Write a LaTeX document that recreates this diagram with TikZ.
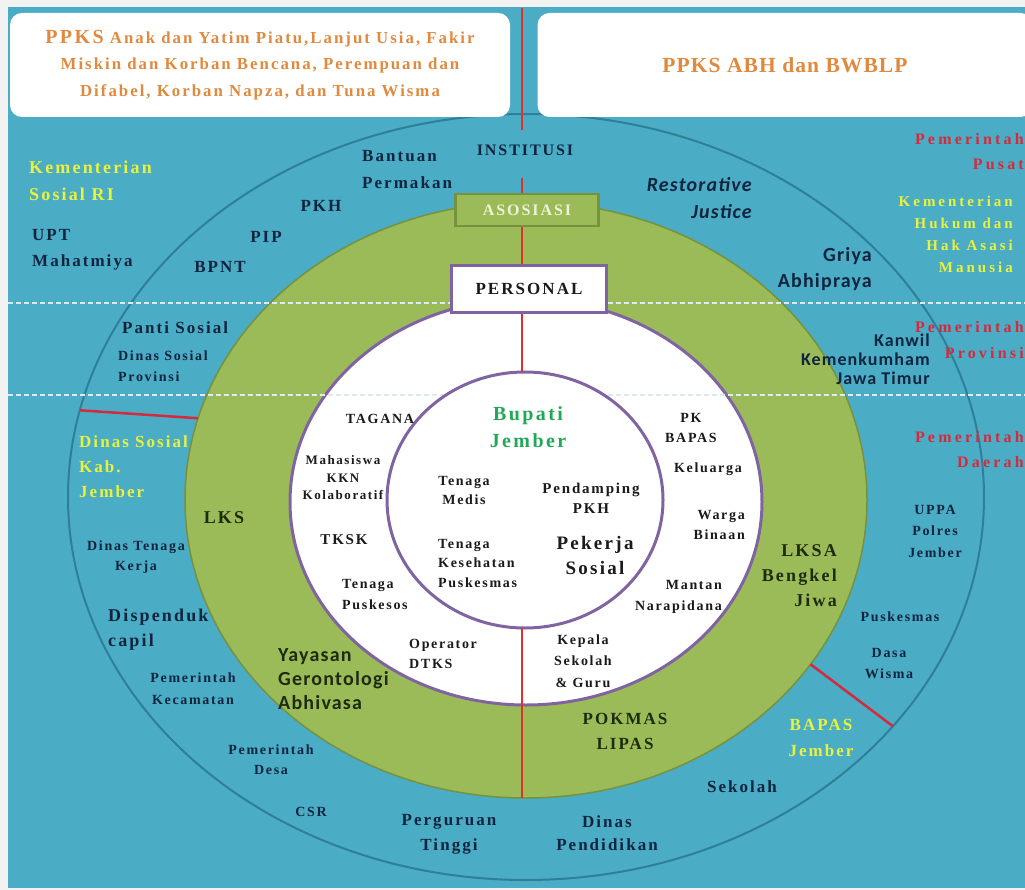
\documentclass[tikz,border=0pt]{standalone}
\usepackage{fontspec}
\setmainfont{Liberation Serif}[LetterSpace=12]
\newfontfamily\widefont{Liberation Serif}[LetterSpace=20]
\newfontfamily\tightfont{Liberation Serif}[LetterSpace=5]
\newfontfamily\calfont{Carlito}[LetterSpace=6]
\usetikzlibrary{shapes.geometric}

\definecolor{pagegray}{HTML}{F2F2F2}
\definecolor{sea}{HTML}{4BACC6}
\definecolor{seaedge}{HTML}{2E7F97}
\definecolor{ringgreen}{HTML}{9BBB59}
\definecolor{ringgreenedge}{HTML}{76923C}
\definecolor{ringpurple}{HTML}{8064A2}
\definecolor{navy}{HTML}{10243E}
\definecolor{darkolive}{HTML}{1E2B0F}
\definecolor{ink}{HTML}{1A1A1A}
\definecolor{lemon}{HTML}{EAF23A}
\definecolor{crimson}{HTML}{D42A3C}
\definecolor{amber}{HTML}{DF8A3E}
\definecolor{leaf}{HTML}{21A957}
\definecolor{cream}{HTML}{EEF2D8}
\definecolor{redln}{HTML}{E0302E}
\definecolor{dashc}{HTML}{DDEBF0}

\begin{document}
\begin{tikzpicture}[x=1pt, y=-1pt]

\tikzset{ring/.style = {ellipse, inner sep=0pt, outer sep=0pt}}
\tikzset{lbl/.style 2 args = {font=\bfseries\fontsize{#1}{#2}\selectfont, text=navy, align=center, inner sep=1pt}}
\tikzset{wide/.style 2 args = {font=\widefont\bfseries\fontsize{#1}{#2}\selectfont, align=center, inner sep=1pt}}
\tikzset{cal/.style 2 args = {font=\calfont\bfseries\fontsize{#1}{#2}\selectfont, text=navy, inner sep=1pt}}
\tikzset{redline/.style = {draw=redln, line width=2.5pt}}
\tikzset{dashline/.style = {draw=dashc, line width=1.3pt, dash pattern=on 5pt off 3pt}}
\tikzset{topbox/.style = {fill=white, rounded corners=12pt, inner sep=0pt}}

%background
\useasboundingbox (0,0) rectangle (1025,890);
\clip (0,0) rectangle (1025,890);
\fill[pagegray] (0,0) rectangle (1025,890);
\fill[sea] (8,7) rectangle (1025,888);

%rings
\node[ring, draw=seaedge, line width=2pt, minimum width=916pt, minimum height=766pt] (outer) at (526,497) {};
\node[ring, draw=ringgreenedge, fill=ringgreen, line width=1.5pt, minimum width=682pt, minimum height=596pt] (green) at (526,500) {};
\node[ring, draw=ringpurple, fill=white, line width=3pt, minimum width=472pt, minimum height=406pt] (white) at (526,502) {};
\draw[dashline] (8,303) -- (1025,303);
\draw[dashline] (8,395) -- (1025,395);
\node[ring, draw=ringpurple, fill=white, line width=3pt, minimum width=276pt, minimum height=256pt] (inner) at (525,500) {};

%top boxes
\node[topbox, minimum width=500pt, minimum height=104pt, font=\bfseries\fontsize{16.8}{26.5}\selectfont, text=amber, align=center] (ppksa) at (260,65)
  {{\fontsize{20}{26}\selectfont PPKS} Anak dan Yatim Piatu,Lanjut Usia, Fakir\\Miskin dan Korban Bencana, Perempuan dan\\Difabel, Korban Napza, dan Tuna Wisma};
\node[topbox, minimum width=495pt, minimum height=104pt, font=\tightfont\bfseries\fontsize{21.5}{24}\selectfont, text=amber] (ppksb) at (785,65) {PPKS ABH dan BWBLP};

%levels
\node[lbl={16}{18}, inner sep=2pt] (institusi) at (525,150) {INSTITUSI};
\node[draw=ringgreenedge, fill=ringgreen, line width=2.5pt, minimum width=143pt, minimum height=32pt, lbl={16}{18}, text=cream] (asosiasi) at (527,210) {ASOSIASI};
\node[draw=ringpurple, fill=white, line width=3pt, minimum width=155pt, minimum height=47pt, lbl={17}{18}, text=ink] (personal) at (529,289) {PERSONAL};

%red lines
\coordinate (top) at (522,8);
\draw[redline, shorten >=12pt] (top) -- (top |- institusi.north);
\draw[redline, shorten <=20pt] (top |- institusi.south) -- (top |- asosiasi.north);
\draw[redline] (top |- asosiasi.south) -- (top |- personal.north);
\draw[redline] (top |- personal.south) -- (top |- inner.north);
\draw[redline] (top |- inner.south) -- (top |- green.south);
\draw[redline, draw=crimson] (outer.169) -- (green.166);
\draw[redline, draw=crimson] (green.-30) -- (outer.-32);

%pemerintah
\node[wide={16}{25}, text=crimson, anchor=east, align=right] (pusat) at (1025,152) {Pemerintah\\Pusat};
\node[wide={16}{26}, text=crimson, anchor=east, align=right] (provinsi) at (1025,340) {Pemerintah\\Provinsi};
\node[wide={16}{25}, text=crimson, anchor=east, align=right] (daerah) at (1025,450) {Pemerintah\\Daerah};
\node[wide={15}{22}, text=lemon, anchor=east, align=right] (kemkumham) at (1014,234) {Kementerian\\Hukum dan\\Hak Asasi\\Manusia};
\node[lbl={18}{27}, text=lemon, anchor=west, align=left] (kemsos) at (28,181) {Kementerian\\Sosial RI};
\node[lbl={17}{25}, text=lemon, anchor=west, align=left] (dinsoskab) at (78,467) {Dinas Sosial\\Kab.\\Jember};
\node[lbl={17}{26}, text=lemon] (bapas) at (821,738) {BAPAS\\Jember};

%institusi ring
\node[lbl={17}{26}, anchor=west, align=left] (upt) at (31,250) {UPT\\Mahatmiya};
\node[lbl={17}{18}] (pip) at (266,237) {PIP};
\node[lbl={17}{18}] (bpnt) at (220,267) {BPNT};
\node[lbl={17}{18}] (pkh) at (321,206) {PKH};
\node[lbl={17}{27}, anchor=west, align=left] (bantuan) at (361,170) {Bantuan\\Permakan};
\node[cal={20}{27}, font=\calfont\bfseries\itshape\fontsize{20}{27}\selectfont, anchor=east, align=right] (restorative) at (753,198) {Restorative\\Justice};
\node[cal={20}{26}, anchor=east, align=right] (griya) at (873,269) {Griya\\Abhipraya};
\node[cal={18}{19}, anchor=east, align=right] (kanwil) at (931,359) {Kanwil\\Kemenkumham\\Jawa Timur};
\node[lbl={17}{18}, anchor=west] (panti) at (121,328) {Panti Sosial};
\node[lbl={14}{21}, anchor=west, align=left] (dinsosprov) at (117,366) {Dinas Sosial\\Provinsi};
\node[lbl={14}{20}] (disnaker) at (136,557) {Dinas Tenaga\\Kerja};
\node[lbl={18}{25}, anchor=west, align=left] (dispenduk) at (107,630) {Dispenduk\\capil};
\node[lbl={14}{22}] (kecamatan) at (193,689) {Pemerintah\\Kecamatan};
\node[lbl={14}{20}] (desa) at (271,760) {Pemerintah\\Desa};
\node[lbl={14}{18}] (csr) at (311,812) {CSR};
\node[lbl={17}{25}] (perguruan) at (449,834) {Perguruan\\Tinggi};
\node[lbl={17}{23}] (disdik) at (607,833) {Dinas\\Pendidikan};
\node[lbl={17}{18}] (sekolah) at (742,787) {Sekolah};
\node[lbl={14}{21.5}] (uppa) at (935,531) {UPPA\\Polres\\Jember};
\node[lbl={14}{18}] (puskesmas) at (900,617) {Puskesmas};
\node[lbl={14}{21}] (dasa) at (889,664) {Dasa\\Wisma};

%asosiasi ring
\node[lbl={18}{18}, text=darkolive] (lks) at (224,518) {LKS};
\node[cal={20}{24}, text=darkolive, anchor=west, align=left] (yayasan) at (277,679) {Yayasan\\Gerontologi\\Abhivasa};
\node[lbl={18}{25}, text=darkolive, anchor=east, align=right] (lksa) at (838,576) {LKSA\\Bengkel\\Jiwa};
\node[lbl={17}{25}, text=darkolive] (pokmas) at (625,731) {POKMAS\\LIPAS};

%personal ring
\node[lbl={14}{18}, text=ink] (tagana) at (380,419) {TAGANA};
\node[lbl={13}{17.5}, text=ink] (kkn) at (343,478) {Mahasiswa\\KKN\\Kolaboratif};
\node[lbl={15}{18}, text=ink] (tksk) at (344,540) {TKSK};
\node[lbl={14}{21}, text=ink, anchor=west, align=left] (puskesos) at (341,594) {Tenaga\\Puskesos};
\node[lbl={14}{20}, text=ink, anchor=west, align=left] (operator) at (408,654) {Operator\\DTKS};
\node[lbl={14}{21.5}, text=ink] (kepsek) at (583,661) {Kepala\\Sekolah\\\& Guru};
\node[lbl={14}{21}, text=ink, anchor=east, align=right] (mantan) at (723,597) {Mantan\\Narapidana};
\node[lbl={14}{20}, text=ink, anchor=east, align=right] (warga) at (746,525) {Warga\\Binaan};
\node[lbl={14}{18}, text=ink, anchor=east] (keluarga) at (743,469) {Keluarga};
\node[lbl={14}{20}, text=ink] (pk) at (691,428) {PK\\BAPAS};

%center
\node[lbl={20}{27}, text=leaf] (bupati) at (528,427) {Bupati\\Jember};
\node[lbl={14}{19}, text=ink] (medis) at (464,490) {Tenaga\\Medis};
\node[lbl={15}{20}, text=ink] (pendamping) at (591,498) {Pendamping\\PKH};
\node[lbl={14}{19.5}, text=ink, anchor=west, align=left] (kesehatan) at (437,563) {Tenaga\\Kesehatan\\Puskesmas};
\node[lbl={19}{25}, text=ink] (pekerja) at (595,555) {Pekerja\\Sosial};

\end{tikzpicture}
\end{document}
